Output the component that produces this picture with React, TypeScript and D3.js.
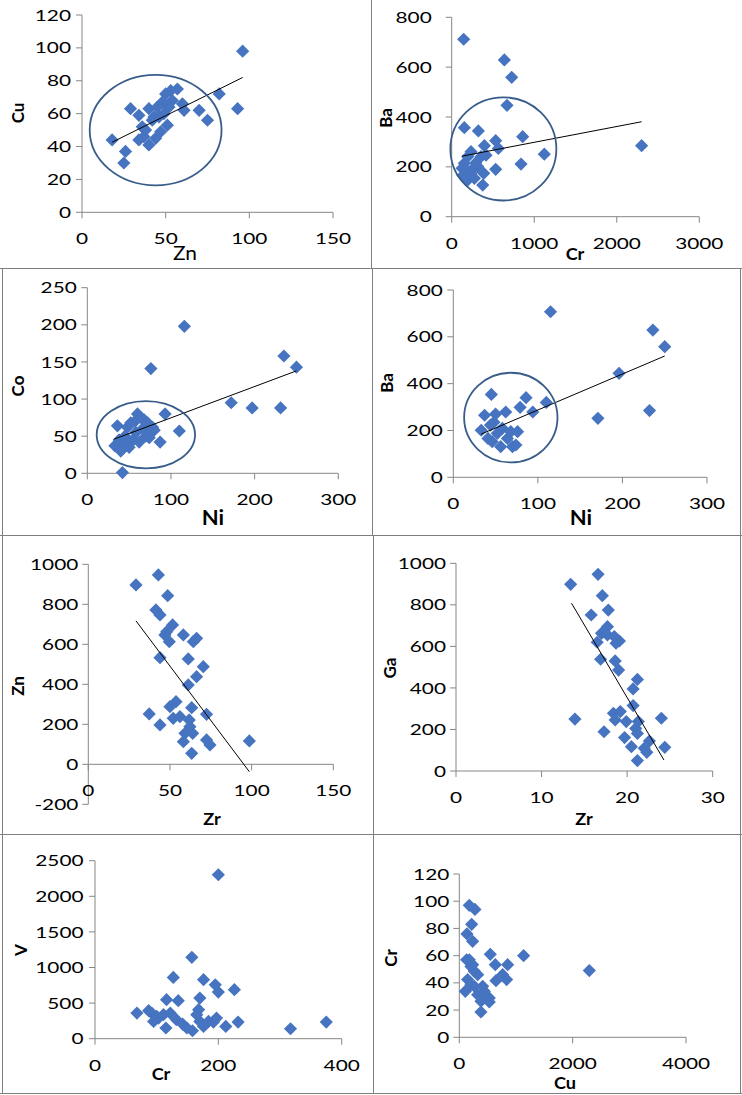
import React from 'react';
import * as d3 from 'd3';

// ---- panel 1: Cu vs Zn
const zn1 = [96, 18, 26, 25, 29, 34, 40, 45, 42, 34, 37, 40, 44, 47, 51, 49, 50, 53, 57, 54, 52, 60, 61, 70, 75, 82, 93, 43, 38, 36, 46, 48];
const cu1 = [98, 44, 37, 30, 63, 59, 63, 64, 56, 44, 46, 41, 45, 49, 53, 60, 72, 74, 75, 68, 64, 66, 62, 62, 56, 72, 63, 58, 50, 52, 58, 67];
const trend1 = [[18, 42.6], [96, 82]];
const ring1 = [44, 50, 39.4, 33.6];

// ---- panel 2: Ba vs Cr
const cr2 = [145, 638, 727, 670, 153, 323, 860, 533, 565, 396, 234, 1122, 2301, 840, 533, 125, 153, 234, 315, 388, 194, 376, 135, 275, 416, 355, 194, 250, 290, 200];
const ba2 = [712, 629, 559, 447, 357, 344, 321, 305, 274, 285, 261, 251, 285, 211, 190, 194, 214, 174, 201, 174, 147, 127, 165, 154, 247, 241, 241, 190, 215, 180];
const trend2 = [[125, 243], [2301, 381]];
const ring2 = [626, 272, 642, 207];

// ---- panel 3: Co vs Ni
const ni3 = [116, 76, 235, 250, 172, 197, 231, 42, 110, 93, 87, 33, 36, 38, 40, 42, 45, 47, 48, 50, 52, 55, 57, 58, 60, 62, 64, 66, 68, 70, 72, 74, 76, 78, 80];
const co3 = [198, 141, 158, 143, 95, 88, 88, 1, 57, 80, 42, 37, 64, 45, 30, 33, 50, 40, 62, 35, 68, 45, 70, 55, 80, 42, 75, 60, 72, 50, 68, 48, 55, 62, 58];
const trend3 = [[32, 46], [250, 138]];
const ring3 = [70, 52, 58.8, 45.3];

// ---- panel 4: Ba vs Ni
const ni4 = [115, 236, 250, 196, 232, 171, 110, 86, 94, 79, 45, 62, 33, 37, 41, 48, 50, 52, 58, 56, 64, 68, 74, 76, 70, 46, 44];
const ba4 = [707, 629, 558, 444, 285, 252, 320, 340, 279, 299, 354, 279, 201, 265, 166, 235, 270, 188, 209, 131, 166, 195, 138, 195, 131, 152, 223];
const trend4 = [[32.7, 184], [250, 518]];
const ring4 = [68, 255, 55.2, 191.5];

// ---- panel 5: Zn vs Zr
const zr5 = [42.9, 29.2, 48.6, 41.4, 43.9, 51.6, 48, 46.9, 49.6, 58.2, 64.3, 66.3, 43.9, 61.2, 70.4, 66.3, 61.2, 53.7, 50, 63.3, 37.3, 56.1, 52, 72.4, 61.8, 43.9, 62.2, 59.2, 63.9, 58.2, 72.4, 74.5, 98.6, 63.3];
const zn5 = [947, 897, 843, 772, 747, 697, 663, 647, 613, 647, 613, 630, 533, 527, 488, 438, 397, 313, 288, 283, 252, 238, 230, 250, 222, 197, 188, 155, 155, 113, 122, 97, 117, 55];
const trend5 = [[29.2, 717], [98.6, -37]];

// ---- panel 6: Ga vs Zr
const zr6 = [16.6, 13.4, 17.1, 17.8, 15.8, 17.7, 17, 17.7, 18.5, 19.1, 18.7, 16.5, 16.9, 18.6, 19, 21.2, 20.7, 20.7, 18.4, 19.2, 18.6, 19.9, 13.9, 24, 21.3, 21, 17.3, 21.2, 19.7, 20.5, 24.4, 22.6, 22.3, 22, 21.2];
const ga6 = [947, 899, 844, 775, 751, 695, 663, 655, 647, 626, 615, 620, 538, 530, 486, 441, 395, 315, 278, 286, 246, 238, 250, 254, 238, 205, 189, 181, 161, 117, 114, 144, 90, 109, 50];
const trend6 = [[13.5, 808], [24.3, 53]];

// ---- panel 7: V vs Cr
const cr7 = [200, 157, 127, 176, 195, 200, 226, 170, 116, 135, 168, 68, 87, 92, 95, 103, 111, 122, 115, 132, 142, 149, 158, 170, 176, 184, 192, 197, 212, 232, 317, 375, 100, 165];
const v7 = [2303, 1143, 861, 829, 758, 655, 688, 571, 548, 534, 407, 360, 393, 360, 243, 290, 337, 360, 150, 267, 206, 150, 112, 243, 173, 243, 234, 290, 173, 234, 140, 234, 314, 337];

// ---- panel 8: Cr vs Cu
const cu8 = [176, 276, 218, 135, 235, 129, 547, 1135, 2294, 635, 853, 765, 835, 647, 206, 147, 324, 106, 265, 412, 441, 324, 382, 529, 529, 382, 206, 265, 176, 235];
const cr8 = [97, 94, 83, 76, 70.5, 57, 61, 60, 49, 53.4, 53.4, 46, 42.4, 41.6, 52, 42.4, 46, 33.8, 37.5, 37.5, 33.8, 31.3, 26.5, 28.9, 26, 18.6, 38.7, 48.5, 57, 53.4];

const BLUE = '#4674C1';
const AXIS = '#868686';
const FONT = 'Lato, "Open Sans", sans-serif';

const panels = [
  { xs: zn1, ys: cu1, trend: trend1, ring: ring1, xDom: [0, 150], xStep: 50, yDom: [0, 120], yStep: 20,
    box: [82, 333, 15, 212.3], gap: 11, xt: 'Zn', xtPos: [185, 260], xtSize: 19, xtBold: false, yt: 'Cu', ytPos: [18, 113] },
  { xs: cr2, ys: ba2, trend: trend2, ring: ring2, xDom: [0, 3000], xStep: 1000, yDom: [0, 800], yStep: 200,
    box: [451.7, 699.3, 17.3, 216.7], gap: 20, xt: 'Cr', xtPos: [575, 260], xtSize: 16.5, xtBold: true, yt: 'Ba', ytPos: [386, 118] },
  { xs: ni3, ys: co3, trend: trend3, ring: ring3, xDom: [0, 300], xStep: 100, yDom: [0, 250], yStep: 50,
    box: [87.3, 338.3, 287.7, 473.3], gap: 10.5, xt: 'Ni', xtPos: [213, 525], xtSize: 20, xtBold: true, yt: 'Co', ytPos: [18.5, 386] },
  { xs: ni4, ys: ba4, trend: trend4, ring: ring4, xDom: [0, 300], xStep: 100, yDom: [0, 800], yStep: 200,
    box: [453.3, 707, 290, 477.3], gap: 10.5, xt: 'Ni', xtPos: [581, 525], xtSize: 20, xtBold: true, yt: 'Ba', ytPos: [387, 383] },
  { xs: zr5, ys: zn5, trend: trend5, ring: null, xDom: [0, 150], xStep: 50, yDom: [-200, 1000], yStep: 200,
    box: [88.3, 333.3, 564.3, 804.3], gap: 10, xt: 'Zr', xtPos: [212, 825], xtSize: 16.5, xtBold: true, yt: 'Zn', ytPos: [18.5, 686] },
  { xs: zr6, ys: ga6, trend: trend6, ring: null, xDom: [0, 30], xStep: 10, yDom: [0, 1000], yStep: 200,
    box: [456, 712.7, 563.3, 771], gap: 10, xt: 'Zr', xtPos: [584, 825], xtSize: 16.5, xtBold: true, yt: 'Ga', ytPos: [390, 668] },
  { xs: cr7, ys: v7, trend: null, ring: null, xDom: [0, 400], xStep: 200, yDom: [0, 2500], yStep: 500,
    box: [95, 341.7, 860.7, 1038.7], gap: 11.5, xt: 'Cr', xtPos: [161, 1080], xtSize: 16.5, xtBold: true, yt: 'V', ytPos: [21, 950] },
  { xs: cu8, ys: cr8, trend: null, ring: null, xDom: [0, 4000], xStep: 2000, yDom: [0, 120], yStep: 20,
    box: [459.3, 686, 874, 1037.3], gap: 10, xt: 'Cu', xtPos: [565, 1089], xtSize: 16.5, xtBold: true, yt: 'Cr', ytPos: [391, 958] },
];

const diamond = 'M0,-6.6L6.6,0L0,6.6L-6.6,0Z';

function Label({ x, y, anchor = 'middle', size = 16, bold = false, sx = 1.3, children }: any) {
  return (
    <text transform={`translate(${x},${y}) scale(${sx},1)`} textAnchor={anchor}
      fontSize={size} fontWeight={bold ? 700 : 400} fontFamily={FONT} fill="#000">
      {children}
    </text>
  );
}

function Scatter({ p }: any) {
  const [l, r, t, b] = p.box;
  const x = d3.scaleLinear().domain(p.xDom).range([l, r]);
  const y = d3.scaleLinear().domain(p.yDom).range([b, t]);
  const xTicks = d3.range(p.xDom[0], p.xDom[1] + p.xStep / 2, p.xStep);
  const yTicks = d3.range(p.yDom[0], p.yDom[1] + p.yStep / 2, p.yStep);
  const ax = x(0), ay = y(0);
  const line = d3.line<number[]>().x(d => x(d[0])).y(d => y(d[1]));

  return (
    <g>
      <line x1={ax} x2={ax} y1={t} y2={b} stroke={AXIS} />
      <line x1={l} x2={r} y1={ay} y2={ay} stroke={AXIS} />
      {yTicks.map(v => (
        <g key={'y' + v}>
          <line x1={ax - 6} x2={ax} y1={y(v)} y2={y(v)} stroke={AXIS} />
          <Label x={ax - p.gap} y={y(v) + 5.6} anchor="end">{v < 0 ? '-' + Math.abs(v) : v}</Label>
        </g>
      ))}
      {xTicks.map(v => (
        <g key={'x' + v}>
          <line x1={x(v)} x2={x(v)} y1={ay} y2={ay + 6} stroke={AXIS} />
          <Label x={x(v)} y={ay + 32}>{v}</Label>
        </g>
      ))}
      {p.xs.map((v: number, i: number) => (
        <path key={i} d={diamond} transform={`translate(${x(v)},${y(p.ys[i])})`} fill={BLUE} />
      ))}
      {p.trend && <path d={line(p.trend) || ''} fill="none" stroke="#000" strokeWidth={1} />}
      {p.ring && (
        <ellipse cx={x(p.ring[0])} cy={y(p.ring[1])}
          rx={x(p.ring[0] + p.ring[2]) - x(p.ring[0])} ry={y(p.ring[1]) - y(p.ring[1] + p.ring[3])}
          fill="none" stroke="#385D8A" strokeWidth={1.8} />
      )}
      <Label x={p.xtPos[0]} y={p.xtPos[1]} size={p.xtSize} bold={p.xtBold} sx={1.1}>{p.xt}</Label>
      <text transform={`translate(${p.ytPos[0]},${p.ytPos[1]}) rotate(-90)`} textAnchor="middle" dy="0.35em"
        fontSize={17} fontWeight={700} fontFamily={FONT}>{p.yt}</text>
    </g>
  );
}

export default function App() {
  const grid = '#7F7F7F';
  return (
    <div style={{ position: 'absolute', left: 0, top: 0 }}>
      <svg width={742} height={1095} style={{ display: 'block', background: '#fff' }}>
        <line x1={0} x2={742} y1={268.5} y2={268.5} stroke={grid} />
        <line x1={0} x2={742} y1={535.5} y2={535.5} stroke={grid} />
        <line x1={0} x2={742} y1={834.5} y2={834.5} stroke={grid} />
        <line x1={0} x2={742} y1={1093.5} y2={1093.5} stroke={grid} />
        <line x1={371.5} x2={371.5} y1={0} y2={268.5} stroke={grid} />
        <line x1={372.5} x2={372.5} y1={268.5} y2={535.5} stroke={grid} />
        <line x1={373.5} x2={373.5} y1={535.5} y2={1093.5} stroke={grid} />
        <line x1={2.5} x2={2.5} y1={268.5} y2={1093.5} stroke={grid} />
        <line x1={740.5} x2={740.5} y1={268.5} y2={1093.5} stroke={grid} />
        {panels.map((p, i) => <Scatter key={i} p={p} />)}
      </svg>
    </div>
  );
}
